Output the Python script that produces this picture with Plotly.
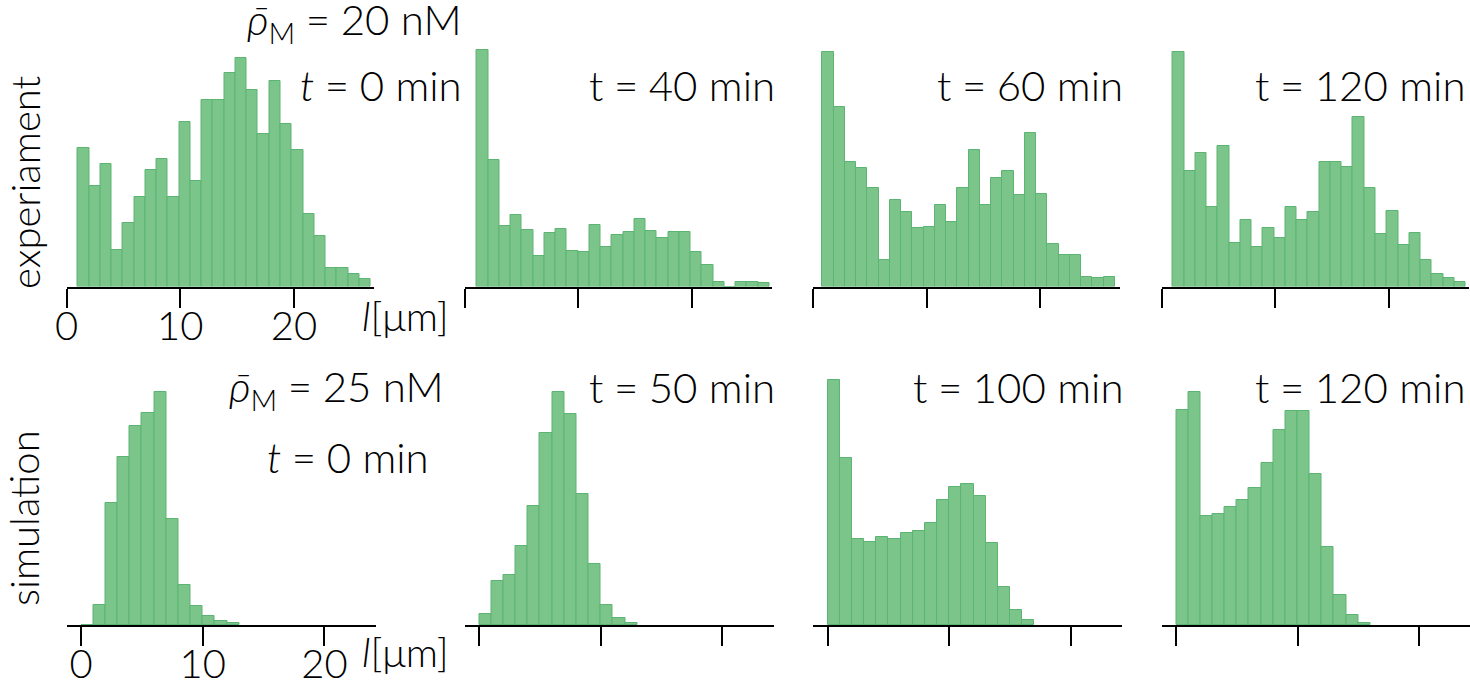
import plotly.graph_objects as go

# ==================== DATA ====================
# bar heights (arbitrary units, shared within each row)
exp_0 = [415, 301, 367, 111, 190, 268, 350, 384, 268, 495, 318, 560, 561,
         642, 686, 591, 459, 618, 489, 409, 217, 153, 57, 57, 39, 24]
exp_40 = [710, 380, 182, 214, 171, 93, 161, 172, 106, 104, 185, 118, 155,
          165, 202, 167, 146, 165, 164, 104, 66, 15, 0, 13, 13, 11]
exp_60 = [705, 538, 374, 356, 297, 79, 259, 224, 177, 179, 245, 194, 297,
          411, 245, 326, 346, 275, 462, 277, 128, 96, 95, 29, 27, 29]
exp_120 = [704, 347, 401, 240, 422, 131, 200, 119, 176, 145, 239, 201, 225,
           374, 374, 359, 508, 297, 159, 227, 126, 161, 81, 37, 26, 13]

sim_0 = [0, 60, 366, 503, 597, 636, 699, 318, 120, 57, 27, 12, 5]
sim_50 = [33, 132, 151, 238, 357, 576, 699, 633, 393, 183, 60, 21, 5]
sim_100 = [734, 500, 259, 249, 264, 258, 276, 282, 306, 376, 414, 424, 387,
           246, 114, 45, 15]
sim_120 = [646, 698, 326, 332, 354, 374, 410, 485, 584, 641, 641, 453, 234,
           89, 29, 5]

exp_bin_start = [1.0, 1.08, 0.82, 1.0]
exp_bin_width = 0.99
sim_bin_start = [0.0, 0.0, 0.0, 0.0]
sim_bin_width = 1.0

EQ = "\u2005=\u2005"
exp_times = ["<i>t</i>" + EQ + "0 min", "t" + EQ + "40 min",
             "t" + EQ + "60 min", "t" + EQ + "120 min"]
sim_times = ["t" + EQ + "50 min", "t" + EQ + "100 min", "t" + EQ + "120 min"]
tick_vals = [0, 10, 20]

# ==================== STYLE ====================
W, H = 1470, 688
FONT = "Lato"
WEIGHT = 300
BAR_FILL = "#7bc58b"
BAR_EDGE = "#5cb472"
col_left = [66.5, 464.5, 813, 1161.5]


def px_x(p):
    return p / W


def px_y(p):
    return 1 - p / H


fig = go.Figure()

rows = [
    dict(data=[exp_0, exp_40, exp_60, exp_120], start=exp_bin_start,
         width=exp_bin_width, xr=[0, 27], pw=307, top=38, bottom=286.5, ymax=745.5),
    dict(data=[sim_0, sim_50, sim_100, sim_120], start=sim_bin_start,
         width=sim_bin_width, xr=[-1.2, 24.2], pw=309, top=368, bottom=625, ymax=771),
]

n = 0
for r, row in enumerate(rows):
    for c, counts in enumerate(row["data"]):
        n += 1
        suffix = "" if n == 1 else str(n)
        centers = [row["start"][c] + (i + 0.5) * row["width"] for i in range(len(counts))]
        fig.add_trace(go.Bar(
            x=centers, y=counts, width=row["width"],
            marker=dict(color=BAR_FILL, line=dict(color=BAR_EDGE, width=1)),
            xaxis="x" + suffix, yaxis="y" + suffix, showlegend=False,
        ))
        x0 = px_x(col_left[c])
        x1 = min(1.0, px_x(col_left[c] + row["pw"]))
        fig.layout["xaxis" + suffix] = dict(
            domain=[x0, x1], range=row["xr"], anchor="y" + suffix,
            showline=True, linecolor="black", linewidth=2,
            ticks="outside", ticklen=19, tickwidth=2, tickcolor="black",
            tickvals=tick_vals, showticklabels=(c == 0),
            tickfont=dict(size=40, color="black", family=FONT, weight=WEIGHT),
            ticklabelstandoff=-16,
            showgrid=False, zeroline=False, fixedrange=True, automargin=False,
        )
        fig.layout["yaxis" + suffix] = dict(
            domain=[px_y(row["bottom"]), px_y(row["top"])], range=[0, row["ymax"]],
            anchor="x" + suffix, visible=False, fixedrange=True, automargin=False,
        )


def label(text, x, y, size=42, angle=0, xanchor="right"):
    fig.add_annotation(
        text=text, x=px_x(x), y=px_y(y), xref="paper", yref="paper",
        xanchor=xanchor, yanchor="middle", showarrow=False, textangle=angle,
        font=dict(size=size, color="black", family=FONT, weight=WEIGHT),
    )


# concentration labels
label("<i>ρ̄</i><sub>M</sub>" + EQ + "20 nM", 464, 22)
label("<i>ρ̄</i><sub>M</sub>" + EQ + "25 nM", 446, 389)

# time labels
for c, txt in enumerate(exp_times):
    right = [464, 777, 1125, 1467][c]
    label(txt, right, 85)
label("<i>t</i>" + EQ + "0 min", 431, 457)
for c, txt in enumerate(sim_times):
    right = [777, 1125, 1467][c]
    label(txt, right, 387)

# x axis titles
label("<i>l</i>[μm]", 451, 316, size=40)
label("<i>l</i>[μm]", 451, 652, size=40)

# row titles
label("experiament", 25, 182, size=40, angle=-90, xanchor="center")
label("simulation", 24, 518, size=40, angle=-90, xanchor="center")

fig.update_layout(
    template="none",
    width=W, height=H,
    margin=dict(l=0, r=0, t=0, b=0, autoexpand=False),
    paper_bgcolor="white", plot_bgcolor="white",
    bargap=0,
    font=dict(family=FONT, color="black"),
)

# the page body has a default 8px margin; drop it so the figure fills the window
fig.write_html("out.html", config={"displayModeBar": False},
               post_script="document.body.style.margin = '0';")
